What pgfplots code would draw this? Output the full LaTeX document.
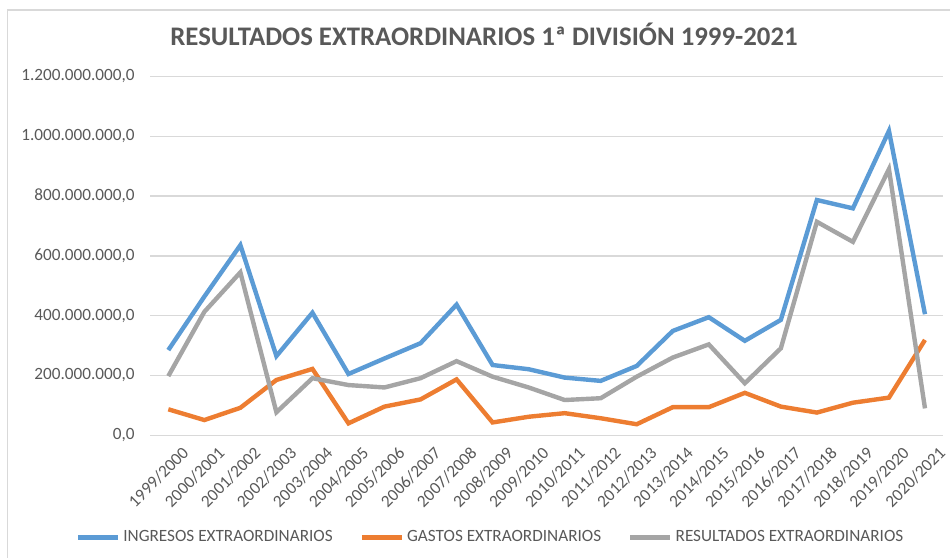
\documentclass[border=0pt]{standalone}
\usepackage{fontspec}
\setmainfont{Carlito}
\usepackage{pgfplots}
\pgfplotsset{compat=1.18}
\definecolor{cblue}{HTML}{5B9BD5}
\definecolor{corange}{HTML}{ED7D31}
\definecolor{cgray}{HTML}{A5A5A5}
\definecolor{gridc}{HTML}{D9D9D9}
\definecolor{tgray}{HTML}{595959}
\begin{document}
\begin{tikzpicture}
\useasboundingbox (0,0) rectangle (475pt,279pt);
\draw[color=gridc, line width=0.75pt] (3.75pt,-5pt) -- (3.75pt,274pt) -- (480pt,274pt);
\node[anchor=base, font=\bfseries\fontsize{13.4}{15}\selectfont, text=tgray, inner sep=0pt] at (242pt,256.15pt) {RESULTADOS EXTRAORDINARIOS 1ª DIVISIÓN 1999-2021};
\begin{axis}[
  at={(75.15pt,61.35pt)}, anchor=south west,
  scale only axis, width=396.35pt, height=179.4pt,
  xmin=-0.5, xmax=21.5, ymin=0, ymax=1200,
  axis line style={draw=none},
  major tick length=0pt,
  ymajorgrids, grid style={color=gridc, line width=0.75pt},
  ytick={0,200,400,600,800,1000,1200},
  yticklabels={{0,0},{200.000.000,0},{400.000.000,0},{600.000.000,0},{800.000.000,0},{1.000.000.000,0},{1.200.000.000,0}},
  yticklabel style={font=\fontsize{8.6}{10}\selectfont, text=tgray, inner sep=0pt, anchor=east, xshift=-7.65pt},
  xtick={0,...,21},
  xticklabels={1999/2000,2000/2001,2001/2002,2002/2003,2003/2004,2004/2005,2005/2006,2006/2007,2007/2008,2008/2009,2009/2010,2010/2011,2011/2012,2012/2013,2013/2014,2014/2015,2015/2016,2016/2017,2017/2018,2018/2019,2019/2020,2020/2021},
  xticklabel style={font=\fontsize{8.6}{10}\selectfont, text=tgray, inner sep=0pt, rotate=45, anchor=north east, xshift=1pt, yshift=-8pt},
  legend columns=3,
  legend style={draw=none, fill=none, at={(0.43,-0.285)}, anchor=center, font=\fontsize{8.6}{10}\selectfont, text=tgray, /tikz/every even column/.append style={column sep=12pt}, nodes={inner sep=1.5pt}},
  legend image code/.code={\draw[#1] (0pt,0pt) -- (20pt,0pt);},
]
\addplot[cblue, line width=2.2pt] coordinates {(0,285)(1,464)(2,636)(3,265)(4,410)(5,205)(6,257)(7,308)(8,437)(9,235)(10,221)(11,193)(12,182)(13,232)(14,349)(15,395)(16,316)(17,386)(18,787)(19,759)(20,1018)(21,405)};
\addlegendentry{INGRESOS EXTRAORDINARIOS}
\addplot[corange, line width=2.2pt] coordinates {(0,87)(1,51)(2,92)(3,185)(4,222)(5,40)(6,96)(7,120)(8,187)(9,43)(10,62)(11,74)(12,57)(13,37)(14,94)(15,94)(16,142)(17,96)(18,76)(19,109)(20,126)(21,319)};
\addlegendentry{GASTOS EXTRAORDINARIOS}
\addplot[cgray, line width=2.2pt] coordinates {(0,198)(1,413)(2,545)(3,77)(4,191)(5,168)(6,160)(7,191)(8,248)(9,196)(10,160)(11,118)(12,124)(13,196)(14,260)(15,304)(16,174)(17,291)(18,714)(19,647)(20,890)(21,90)};
\addlegendentry{RESULTADOS EXTRAORDINARIOS}
\end{axis}
\end{tikzpicture}
\end{document}
